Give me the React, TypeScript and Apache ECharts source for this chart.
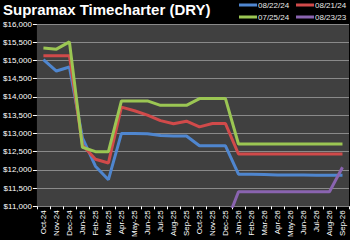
import React, { useEffect, useRef } from "react";
import * as echarts from "echarts";

const months = [
  "Oct-24", "Nov-24", "Dec-24", "Jan-25", "Feb-25", "Mar-25", "Apr-25", "May-25",
  "Jun-25", "Jul-25", "Aug-25", "Sep-25", "Oct-25", "Nov-25", "Dec-25", "Jan-26",
  "Feb-26", "Mar-26", "Apr-26", "May-26", "Jun-26", "Jul-26", "Aug-26", "Sep-26",
];

const s082224 = [
  15020, 14710, 14820, 12880, 12100, 11730, 13000, 13000,
  12990, 12940, 12930, 12930, 12660, 12660, 12660, 11880,
  11880, 11870, 11860, 11860, 11860, 11855, 11855, 11850,
];
const s082124 = [
  15130, 15130, 15130, 12680, 12290, 12190, 13720, 13620,
  13500, 13350, 13265, 13335, 13180, 13270, 13270, 12435,
  12435, 12435, 12435, 12435, 12435, 12435, 12435, 12435,
];
const s072524 = [
  15340, 15310, 15510, 12620, 12500, 12500, 13890, 13890,
  13890, 13770, 13770, 13770, 13955, 13955, 13955, 12710,
  12710, 12710, 12710, 12710, 12710, 12710, 12710, 12710,
];
const s082323 = [
  null, null, null, null, null, null, null, null,
  null, null, null, null, null, null, 10480, 11400,
  11400, 11400, 11400, 11400, 11400, 11400, 11400, 12070,
];

const seriesNames = ["08/22/24", "08/21/24", "07/25/24", "08/23/23"];
const seriesColors = ["#4f86cf", "#d04a4a", "#9bc653", "#8a64b0"];
const seriesData = [s082224, s082124, s072524, s082323];

const FONT = "Liberation Sans";
const legendPos = [
  { left: 239, top: 1 },
  { left: 296, top: 1 },
  { left: 239, top: 13 },
  { left: 296, top: 13 },
];

export default function App() {
  const ref = useRef<HTMLDivElement>(null);
  useEffect(() => {
    if (!ref.current) return;
    const chart = echarts.init(ref.current, null, { renderer: "svg" });
    chart.setOption({
      animation: false,
      backgroundColor: "#000000",
      title: {
        text: "Supramax Timecharter (DRY)",
        left: 3,
        top: 2,
        padding: 0,
        textStyle: { color: "#ffffff", fontSize: 15, fontWeight: "bold", fontFamily: FONT, lineHeight: 15 },
      },
      legend: seriesNames.map((name, i) => ({
        ...legendPos[i],
        padding: 0,
        data: [name],
        icon: "rect",
        itemWidth: 18,
        itemHeight: 3,
        textStyle: { color: "#e8e8e8", fontSize: 8, fontFamily: FONT, padding: [0, 0, 0, -4] },
      })),
      grid: {
        left: 35,
        right: 1,
        top: 24,
        bottom: 30,
        show: true,
        backgroundColor: "#404040",
        borderWidth: 0,
      },
      xAxis: {
        type: "category",
        data: months,
        boundaryGap: true,
        axisLine: { show: true, lineStyle: { color: "#808080", width: 1 } },
        axisTick: { show: true, length: 3, lineStyle: { color: "#ffffff" } },
        axisLabel: { color: "#ffffff", fontSize: 8, fontFamily: FONT, rotate: 90, margin: 4 },
      },
      yAxis: {
        type: "value",
        min: 11000,
        max: 16000,
        interval: 500,
        axisLine: { show: false },
        axisTick: { show: true, length: 4, lineStyle: { color: "#ffffff" } },
        axisLabel: {
          color: "#ffffff",
          fontSize: 8,
          fontFamily: FONT,
          margin: 5,
          formatter: (v: number) => "$" + v.toLocaleString("en-US"),
        },
        splitLine: { show: true, lineStyle: { color: "#8a8a8a", width: 1.2 } },
      },
      series: seriesNames.map((name, i) => ({
        name,
        type: "line",
        data: seriesData[i],
        showSymbol: false,
        symbol: "none",
        clip: true,
        connectNulls: false,
        lineStyle: { color: seriesColors[i], width: 3 },
        itemStyle: { color: seriesColors[i] },
      })),
    });
    return () => chart.dispose();
  }, []);
  return <div ref={ref} style={{ width: 350, height: 240, position: "absolute", left: 0, top: 0 }} />;
}
